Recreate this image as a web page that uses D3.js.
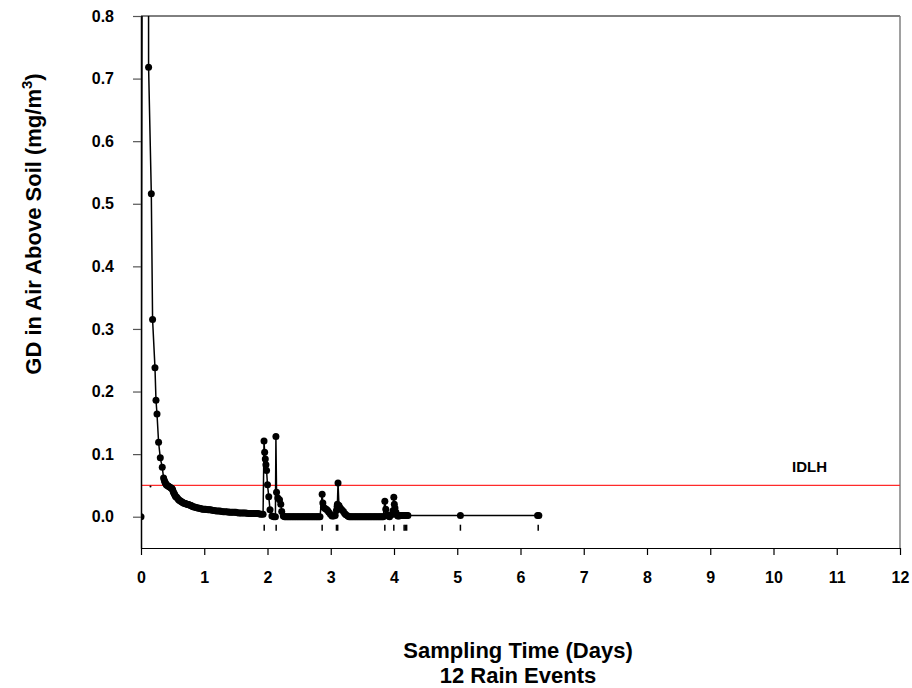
<!DOCTYPE html>
<html>
<head>
<meta charset="utf-8">
<script src="https://cdn.jsdelivr.net/npm/d3@7"></script>
<style>
  body { margin: 0; background: #fff; }
  svg text { font-family: "Liberation Sans", Arial, sans-serif; font-weight: bold; fill: #000; }
</style>
</head>
<body>
<svg id="chart" width="912" height="688"></svg>
<script>
// sampling time (days) and GD concentration (mg/m3)
const days = [
  0, 0.10, 0.12, 0.163, 0.183, 0.221, 0.237, 0.253, 0.278, 0.305, 0.336, 0.357, 0.37, 0.38, 0.39, 0.40,
  0.415, 0.43, 0.445, 0.46, 0.475, 0.49, 0.50, 0.51, 0.52, 0.53, 0.54, 0.55, 0.565, 0.58, 0.595, 0.61,
  0.625, 0.64, 0.655, 0.67, 0.685, 0.70, 0.715, 0.73, 0.745, 0.76, 0.775, 0.79, 0.805, 0.82,
  0.84, 0.86, 0.88, 0.90, 0.92, 0.94, 0.96, 0.98, 1.00, 1.02, 1.04, 1.06, 1.08, 1.10, 1.125, 1.15,
  1.175, 1.20, 1.225, 1.25, 1.275, 1.30, 1.325, 1.35, 1.375, 1.40, 1.425, 1.45, 1.475, 1.50,
  1.525, 1.55, 1.575, 1.60, 1.625, 1.65, 1.675, 1.70, 1.725, 1.75, 1.775, 1.80, 1.825, 1.85,
  1.875, 1.90, 1.93,
  1.945, 1.955, 1.965, 1.975, 1.985, 2.00, 2.02, 2.04, 2.07, 2.10, 2.125,
  2.133, 2.143, 2.163, 2.19, 2.21, 2.225, 2.25,
  2.27, 2.29, 2.31, 2.33, 2.35, 2.37, 2.39, 2.41, 2.43, 2.45, 2.47, 2.49, 2.51, 2.53, 2.55,
  2.57, 2.59, 2.61, 2.63, 2.65, 2.67, 2.69, 2.71, 2.73, 2.75, 2.77, 2.79, 2.81, 2.83,
  2.864, 2.875, 2.885, 2.91, 2.93, 2.95, 2.97, 2.995, 3.02, 3.045, 3.07, 3.09, 3.10, 3.105, 3.115,
  3.13, 3.15, 3.175, 3.20, 3.22, 3.24, 3.27,
  3.29, 3.31, 3.33, 3.35, 3.37, 3.39, 3.41, 3.43, 3.45, 3.47, 3.49, 3.51, 3.53, 3.55, 3.57,
  3.59, 3.61, 3.63, 3.65, 3.67, 3.69, 3.71, 3.73, 3.75, 3.77, 3.79, 3.81, 3.83,
  3.855, 3.87, 3.89, 3.91, 3.93, 3.96, 3.985, 3.997, 4.005, 4.015, 4.03, 4.045, 4.06, 4.08, 4.10,
  4.12, 4.14, 4.16, 4.18, 4.20, 4.22, 5.05, 6.27, 6.29
];
const gd = [
  0, 5.0, 0.718, 0.516, 0.315, 0.238, 0.186, 0.164, 0.119, 0.094, 0.079, 0.062, 0.058, 0.055, 0.053, 0.051,
  0.050, 0.049, 0.048, 0.047, 0.046, 0.045, 0.043, 0.040, 0.038, 0.036, 0.034, 0.032, 0.031, 0.029, 0.027, 0.026,
  0.025, 0.024, 0.023, 0.022, 0.0215, 0.021, 0.0205, 0.020, 0.0195, 0.019, 0.0185, 0.018, 0.017, 0.016,
  0.0155, 0.015, 0.0145, 0.014, 0.0135, 0.013, 0.0125, 0.012, 0.012, 0.012, 0.0115, 0.011, 0.011, 0.011, 0.0105, 0.010,
  0.0095, 0.009, 0.009, 0.009, 0.0085, 0.008, 0.008, 0.008, 0.0075, 0.007, 0.007, 0.007, 0.007, 0.007,
  0.0065, 0.006, 0.006, 0.006, 0.006, 0.006, 0.0055, 0.005, 0.005, 0.005, 0.005, 0.005, 0.005, 0.005,
  0.0045, 0.004, 0.004,
  0.121, 0.103, 0.092, 0.083, 0.074, 0.051, 0.032, 0.011, 0.001, 0, 0,
  0.128, 0.039, 0.030, 0.027, 0.020, 0.0085, 0.001,
  0, 0, 0, 0, 0, 0, 0, 0, 0, 0, 0, 0, 0, 0, 0,
  0, 0, 0, 0, 0, 0, 0, 0, 0, 0, 0, 0, 0, 0,
  0.036, 0.022, 0.015, 0.013, 0.012, 0.010, 0.007, 0.004, 0.001, 0.001, 0.002, 0.010, 0.016, 0.020, 0.054,
  0.018, 0.014, 0.011, 0.0085, 0.005, 0.003, 0.001,
  0, 0, 0, 0, 0, 0, 0, 0, 0, 0, 0, 0, 0, 0, 0,
  0, 0, 0, 0, 0, 0, 0, 0, 0, 0, 0, 0, 0,
  0.0245, 0.012, 0.003, 0.001, 0, 0.003, 0.0096, 0.031, 0.020, 0.014, 0.007, 0.003, 0.001, 0.001, 0.002,
  0.002, 0.002, 0.002, 0.002, 0.002, 0.002, 0.002, 0.002, 0.002
];
// times of the 12 rain events (small marks under the curve)
const rainDays = [1.948, 2.137, 2.864, 3.09, 3.11, 3.855, 3.997, 4.16, 4.18, 4.20, 5.05, 6.28];

const idlh = 0.05;
const xTicks = d3.range(0, 13);
const yTicks = [0, 0.1, 0.2, 0.3, 0.4, 0.5, 0.6, 0.7, 0.8];

const points = days.map((d, i) => ({ day: d, gd: gd[i] }));

const svg = d3.select("#chart");
const margin = { top: 16, right: 12, bottom: 140, left: 141 };
const width = 912;
const height = 688;

const x = d3.scaleLinear().domain([0, 12]).range([margin.left, width - margin.right]);
const y = d3.scaleLinear().domain([-0.05, 0.8]).range([height - margin.bottom, margin.top]);

svg.append("rect").attr("width", width).attr("height", height).attr("fill", "#fff");

svg.append("defs").append("clipPath").attr("id", "plot-clip")
  .append("rect")
  .attr("x", margin.left).attr("y", margin.top)
  .attr("width", width - margin.right - margin.left)
  .attr("height", height - margin.bottom - margin.top);

// frame: top black, right grey
svg.append("line")
  .attr("x1", x(0)).attr("x2", x(12)).attr("y1", y(0.8)).attr("y2", y(0.8))
  .attr("stroke", "#000").attr("stroke-width", 1);
svg.append("line")
  .attr("x1", x(12)).attr("x2", x(12)).attr("y1", y(0.8)).attr("y2", y(-0.05))
  .attr("stroke", "#808080").attr("stroke-width", 1.5);

// IDLH line
svg.append("line")
  .attr("x1", x(0)).attr("x2", x(12)).attr("y1", y(idlh)).attr("y2", y(idlh))
  .attr("stroke", "#ff2a2a").attr("stroke-width", 1.4);
svg.append("circle")
  .attr("cx", x(0.15)).attr("cy", y(idlh) + 1).attr("r", 1)
  .attr("fill", "#000");
svg.append("text")
  .attr("x", x(10.57)).attr("y", y(0.072))
  .attr("text-anchor", "middle")
  .style("font-size", "15px")
  .text("IDLH");

// axes
const yAxis = svg.append("g")
  .attr("transform", `translate(${margin.left},0)`)
  .call(d3.axisLeft(y).tickValues(yTicks).tickFormat(d3.format(".1f")).tickSize(8).tickSizeOuter(0).tickPadding(19));
yAxis.select(".domain").attr("stroke", "#000").attr("stroke-width", 1.5);
yAxis.selectAll(".tick line").attr("stroke", "#555").attr("stroke-width", 1.2);
yAxis.selectAll(".tick text").style("font-size", "16px").attr("fill", "#000");

const xAxis = svg.append("g")
  .attr("transform", `translate(0,${height - margin.bottom})`)
  .call(d3.axisBottom(x).tickValues(xTicks).tickFormat(d3.format("d")).tickSize(7).tickSizeOuter(0).tickPadding(17));
xAxis.select(".domain").attr("stroke", "#000").attr("stroke-width", 1.2);
xAxis.selectAll(".tick line").attr("stroke", "#000").attr("stroke-width", 1.2);
xAxis.selectAll(".tick text").style("font-size", "16px").attr("fill", "#000");

// rain event marks
svg.append("g").selectAll("line")
  .data(rainDays)
  .join("line")
  .attr("x1", (d) => x(d)).attr("x2", (d) => x(d))
  .attr("y1", y(0) + 8).attr("y2", y(0) + 14)
  .attr("stroke", "#000").attr("stroke-width", 1.5);

// data line + markers
const plot = svg.append("g").attr("clip-path", "url(#plot-clip)");
const line = d3.line().x((d) => x(d.day)).y((d) => y(d.gd));
plot.append("path")
  .datum(points)
  .attr("fill", "none")
  .attr("stroke", "#000")
  .attr("stroke-width", 1.5)
  .attr("d", line);
plot.selectAll("circle")
  .data(points)
  .join("circle")
  .attr("cx", (d) => x(d.day))
  .attr("cy", (d) => y(d.gd))
  .attr("r", 3.5)
  .attr("fill", "#000");

// axis titles
svg.append("text")
  .attr("x", 518).attr("y", 658)
  .attr("text-anchor", "middle")
  .style("font-size", "22px")
  .text("Sampling Time (Days)");
svg.append("text")
  .attr("x", 518).attr("y", 683)
  .attr("text-anchor", "middle")
  .style("font-size", "22px")
  .text("12 Rain Events");

const yTitle = svg.append("text")
  .attr("transform", "translate(41,224) rotate(-90)")
  .attr("text-anchor", "middle")
  .style("font-size", "22px");
yTitle.append("tspan").text("GD in Air Above Soil (mg/m");
yTitle.append("tspan").attr("dy", -9).style("font-size", "15px").text("3");
yTitle.append("tspan").attr("dy", 9).text(")");
</script>
</body>
</html>
